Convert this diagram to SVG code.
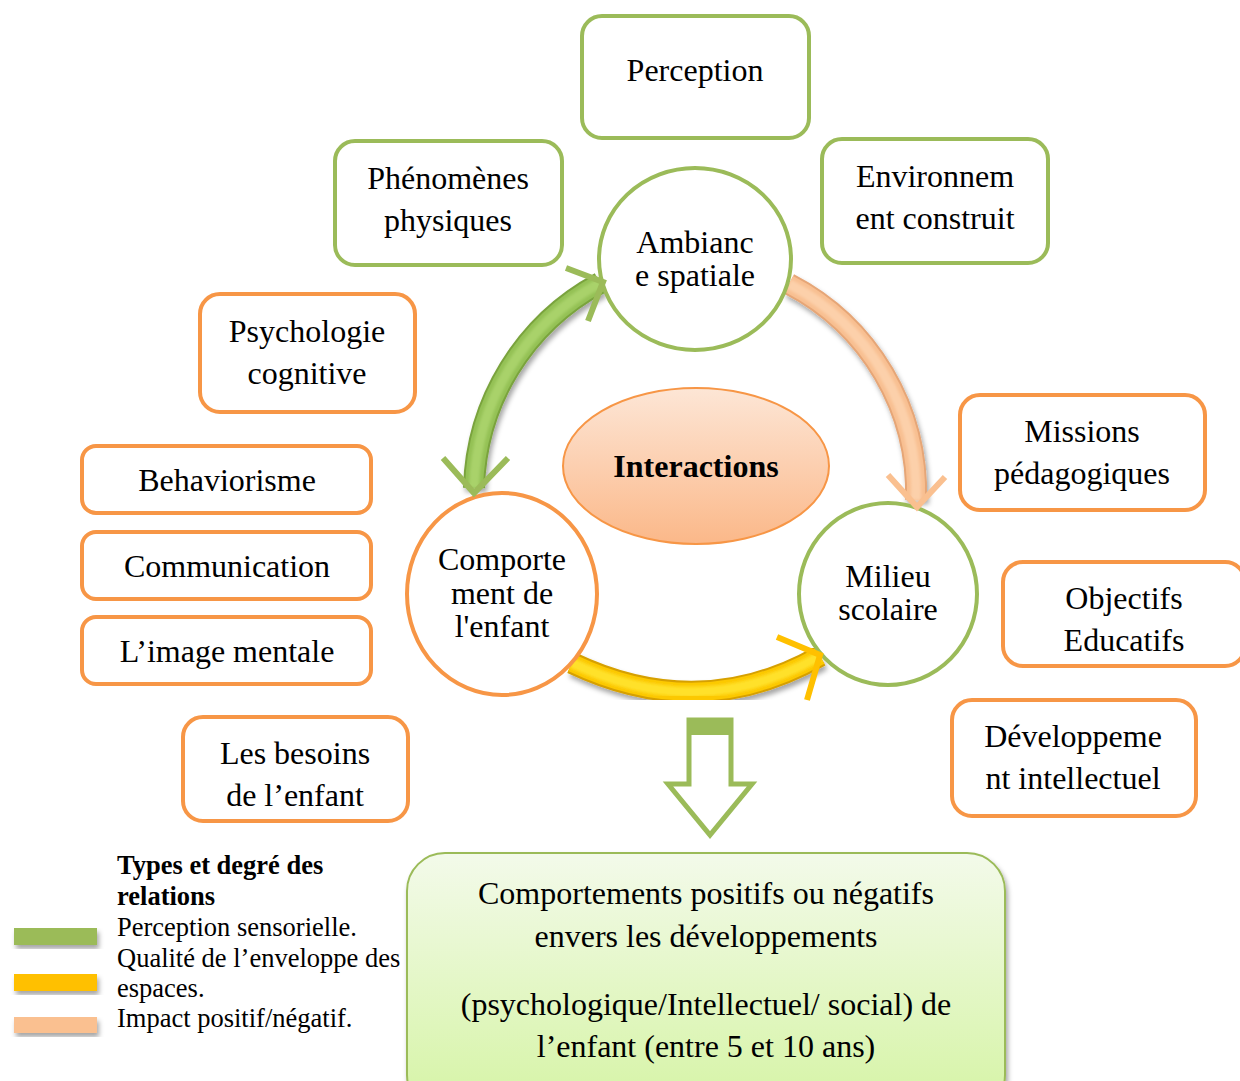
<svg xmlns="http://www.w3.org/2000/svg" width="1240" height="1081" viewBox="0 0 1240 1081">
  <style>
    .t { font-family: "Liberation Serif", "Times New Roman", serif; font-size: 32px; fill: #000; text-anchor: middle; }
    .b { font-weight: bold; }
    .lg { font-family: "Liberation Serif", "Times New Roman", serif; font-size: 26.5px; fill: #000; }
    .gbox { fill: #fff; stroke: #9bbb59; stroke-width: 4; }
    .obox { fill: #fff; stroke: #f79646; stroke-width: 4; }
    .head { fill: none; stroke-width: 6; stroke-linejoin: miter; }
  </style>
  <defs>
    <linearGradient id="interGrad" x1="0" y1="0" x2="0" y2="1">
      <stop offset="0" stop-color="#fde6d6"/>
      <stop offset="1" stop-color="#fbb889"/>
    </linearGradient>
    <linearGradient id="resultGrad" x1="0" y1="0" x2="0" y2="1">
      <stop offset="0" stop-color="#f3faea"/>
      <stop offset="1" stop-color="#d5f4a4"/>
    </linearGradient>
    <filter id="shadow" x="-20%" y="-20%" width="140%" height="140%">
      <feGaussianBlur in="SourceAlpha" stdDeviation="2.5"/>
      <feOffset dx="2" dy="4" result="o"/>
      <feFlood flood-color="#000" flood-opacity="0.35"/>
      <feComposite in2="o" operator="in"/>
      <feMerge><feMergeNode/><feMergeNode in="SourceGraphic"/></feMerge>
    </filter>
    <filter id="soft" x="-10%" y="-10%" width="120%" height="120%">
      <feGaussianBlur stdDeviation="1.5"/>
    </filter>
    <path id="arcGreen" d="M 474 488 A 240 240 0 0 1 600 283" fill="none"/>
    <path id="arcPeach" d="M 789 284 A 235 235 0 0 1 916 500" fill="none"/>
    <path id="arcYellow" d="M 572 663 Q 700 724 820 656" fill="none"/>
  </defs>

  <rect width="1240" height="1081" fill="#fff"/>

  <!-- outer boxes -->
  <g id="perception"><rect class="gbox" x="582" y="16" width="227" height="122" rx="20"/><text class="t" x="695" y="81">Perception</text></g>
  <g id="phenomenes"><rect class="gbox" x="335" y="141" width="227" height="124" rx="20"/><text class="t" x="448" y="189">Phénomènes</text><text class="t" x="448" y="231">physiques</text></g>
  <g id="environnement"><rect class="gbox" x="822" y="139" width="226" height="124" rx="20"/><text class="t" x="935" y="187">Environnem</text><text class="t" x="935" y="229">ent construit</text></g>
  <g id="psychologie"><rect class="obox" x="200" y="294" width="215" height="118" rx="20"/><text class="t" x="307" y="342">Psychologie</text><text class="t" x="307" y="384">cognitive</text></g>
  <g id="behaviorisme"><rect class="obox" x="82" y="446" width="289" height="67" rx="14"/><text class="t" x="227" y="491">Behaviorisme</text></g>
  <g id="communication"><rect class="obox" x="82" y="532" width="289" height="67" rx="14"/><text class="t" x="227" y="577">Communication</text></g>
  <g id="image-mentale"><rect class="obox" x="82" y="617" width="289" height="67" rx="14"/><text class="t" x="227" y="662">L’image mentale</text></g>
  <g id="besoins"><rect class="obox" x="183" y="717" width="225" height="104" rx="20"/><text class="t" x="295" y="764">Les besoins</text><text class="t" x="295" y="806">de l’enfant</text></g>
  <g id="missions"><rect class="obox" x="960" y="395" width="245" height="115" rx="20"/><text class="t" x="1082" y="442">Missions</text><text class="t" x="1082" y="484">pédagogiques</text></g>
  <g id="objectifs"><rect class="obox" x="1003" y="562" width="242" height="104" rx="20"/><text class="t" x="1124" y="609">Objectifs</text><text class="t" x="1124" y="651">Educatifs</text></g>
  <g id="developpement"><rect class="obox" x="952" y="700" width="244" height="116" rx="20"/><text class="t" x="1073" y="747">Développeme</text><text class="t" x="1073" y="789">nt intellectuel</text></g>

  <!-- central ellipse -->
  <g id="interactions">
    <ellipse cx="696" cy="466" rx="133" ry="78" fill="url(#interGrad)" stroke="#f79646" stroke-width="2"/>
    <text class="t b" x="696" y="477">Interactions</text>
  </g>

  <!-- curved connectors between the three poles -->
  <g id="connectors">
    <g filter="url(#shadow)">
      <use href="#arcGreen" stroke="#7aa33e" stroke-width="22"/>
      <use href="#arcGreen" stroke="#94c155" stroke-width="18"/>
      <use href="#arcGreen" stroke="#a9d26a" stroke-width="10" filter="url(#soft)"/>
    </g>
    <g filter="url(#shadow)">
      <use href="#arcPeach" stroke="#e6a677" stroke-width="22"/>
      <use href="#arcPeach" stroke="#f8bf91" stroke-width="18"/>
      <use href="#arcPeach" stroke="#fcd0aa" stroke-width="10" filter="url(#soft)"/>
    </g>
    <g filter="url(#shadow)">
      <use href="#arcYellow" stroke="#d6a000" stroke-width="22"/>
      <use href="#arcYellow" stroke="#fcc800" stroke-width="18"/>
      <use href="#arcYellow" stroke="#ffe12a" stroke-width="10" filter="url(#soft)"/>
    </g>
  </g>

  <!-- pole circles -->
  <g id="ambiance"><ellipse cx="695" cy="259" rx="96" ry="91" fill="#fff" stroke="#9bbb59" stroke-width="4"/><text class="t" x="695" y="253">Ambianc</text><text class="t" x="695" y="286">e spatiale</text></g>
  <g id="comportement"><ellipse cx="502" cy="594" rx="95" ry="101" fill="#fff" stroke="#f79646" stroke-width="4"/><text class="t" x="502" y="570">Comporte</text><text class="t" x="502" y="604">ment de</text><text class="t" x="502" y="637">l'enfant</text></g>
  <g id="milieu"><ellipse cx="888" cy="594" rx="89" ry="91" fill="#fff" stroke="#9bbb59" stroke-width="4"/><text class="t" x="888" y="587">Milieu</text><text class="t" x="888" y="620">scolaire</text></g>

  <!-- arrowheads -->
  <g id="arrowheads">
    <polyline class="head" stroke="#9bbb59" points="566,268 603,282 588,321"/>
    <polyline class="head" stroke="#9bbb59" points="443,458 474,493 508,458"/>
    <polyline class="head" stroke="#fac090" points="888,475 917,507 945,477"/>
    <polyline class="head" stroke="#ffc000" points="777,637 820,655 807,700"/>
  </g>

  <!-- downward arrow to the result -->
  <g id="down-arrow">
    <path d="M 689 720 H 731 V 784 H 752 L 710 835 L 668 784 H 689 Z" fill="#fff" stroke="#9bbb59" stroke-width="5" stroke-linejoin="miter"/>
    <rect x="689" y="718" width="42" height="17" fill="#9bbb59"/>
  </g>

  <!-- result box -->
  <g id="result">
    <rect x="407" y="853" width="598" height="260" rx="38" fill="url(#resultGrad)" stroke="#9bbb59" stroke-width="2" filter="url(#shadow)"/>
    <text class="t" x="706" y="904">Comportements positifs ou négatifs</text>
    <text class="t" x="706" y="947">envers les développements</text>
    <text class="t" x="706" y="1015">(psychologique/Intellectuel/ social) de</text>
    <text class="t" x="706" y="1057">l’enfant (entre 5 et 10 ans)</text>
  </g>

  <!-- legend -->
  <g id="legend">
    <rect x="14" y="928" width="83" height="17" fill="#9bbb59" filter="url(#shadow)"/>
    <rect x="14" y="974" width="83" height="17" fill="#ffc000" filter="url(#shadow)"/>
    <rect x="14" y="1017" width="83" height="16" fill="#fac090" filter="url(#shadow)"/>
    <text class="lg b" x="117" y="874">Types et degré des</text>
    <text class="lg b" x="117" y="905">relations</text>
    <text class="lg" x="117" y="936">Perception sensorielle.</text>
    <text class="lg" x="117" y="967">Qualité de l’enveloppe des</text>
    <text class="lg" x="117" y="997">espaces.</text>
    <text class="lg" x="117" y="1027">Impact positif/négatif.</text>
  </g>
</svg>
